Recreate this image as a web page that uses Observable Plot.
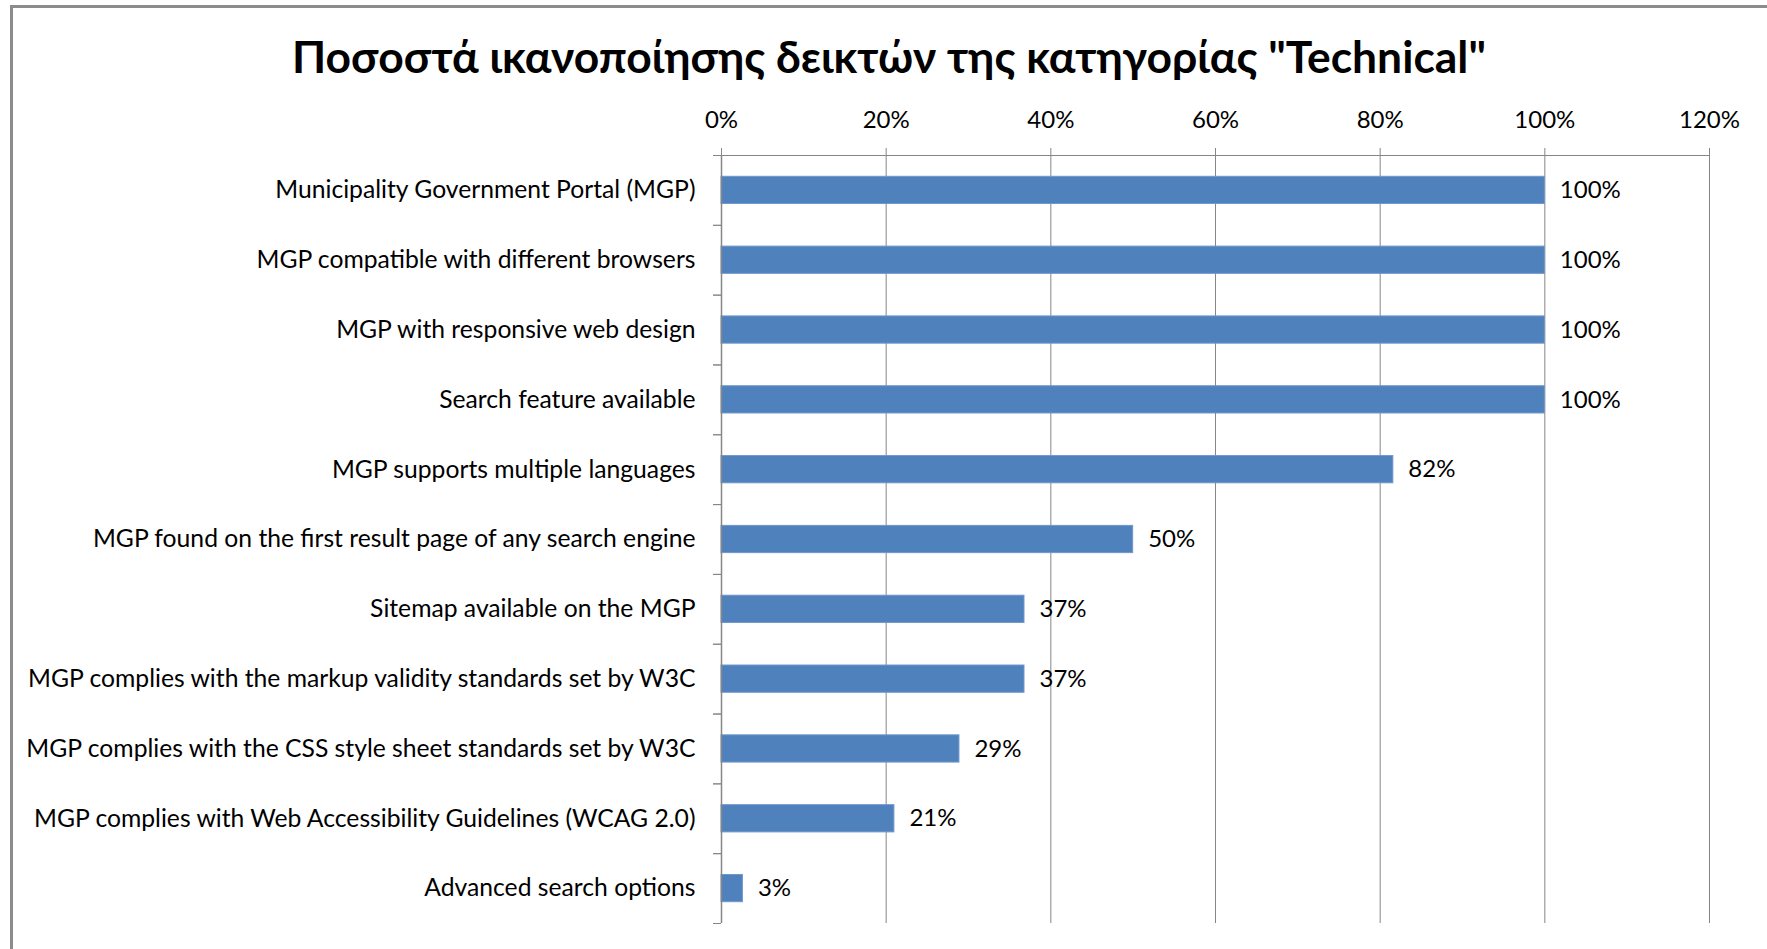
<!DOCTYPE html>
<html>
<head>
<meta charset="utf-8">
<script src="https://cdn.jsdelivr.net/npm/d3@7"></script>
<script src="https://cdn.jsdelivr.net/npm/@observablehq/plot@0.6"></script>
<style>
  html, body { margin: 0; padding: 0; background: #fff; }
  #page { position: relative; width: 1767px; height: 949px; overflow: hidden; background: #fff; }
  #frame { position: absolute; left: 10px; top: 5px; width: 1800px; height: 1000px;
           border-left: 3px solid #8c8c8c; border-top: 3px solid #8c8c8c; box-sizing: border-box; }
  #title { position: absolute; left: 0; width: 1778px; top: 29px; text-align: center;
           font-family: Lato, "Noto Sans", sans-serif; font-weight: bold; font-size: 44.4px; color: #000;
           white-space: nowrap; }
  #chart { position: absolute; left: 0; top: 0; }
</style>
</head>
<body>
<div id="page">
  <div id="frame"></div>
  <div id="chart"></div>
  <div id="title">Ποσοστά ικανοποίησης δεικτών της κατηγορίας "Technical"</div>
</div>
<script>
const categories = [
  "Municipality Government Portal (MGP)",
  "MGP compatible with different browsers",
  "MGP with responsive web design",
  "Search feature available",
  "MGP supports multiple languages",
  "MGP found on the first result page of any search engine",
  "Sitemap available on the MGP",
  "MGP complies with the markup validity standards set by W3C",
  "MGP complies with the CSS style sheet standards set by W3C",
  "MGP complies with Web Accessibility Guidelines (WCAG 2.0)",
  "Advanced search options"
];
const values = [1.00, 1.00, 1.00, 1.00, 0.816, 0.50, 0.368, 0.368, 0.289, 0.21, 0.026];
const xTicks = [0, 0.2, 0.4, 0.6, 0.8, 1.0, 1.2];

const data = categories.map((c, i) => ({label: c, value: values[i]}));

const W = 1767, H = 949;
const mTop = 155, mBottom = 26, mLeft = 721, mRight = 58;
const step = (H - mTop - mBottom) / categories.length;
const pct = d3.format(".0%");
const font = "Lato, 'Noto Sans', sans-serif";
const gridColor = "#868686";
const fs = 24;
const fsLabel = 24.7;

const chart = Plot.plot({
  width: W,
  height: H,
  marginTop: mTop,
  marginBottom: mBottom,
  marginLeft: mLeft,
  marginRight: mRight,
  style: {fontFamily: font, fontSize: fs + "px", color: "#000", background: "transparent"},
  x: {domain: [0, 1.2]},
  y: {domain: categories, paddingInner: 0.61, paddingOuter: 0.305, round: false},
  marks: [
    Plot.gridX({ticks: xTicks, stroke: gridColor, strokeOpacity: 1, strokeWidth: 1}),
    Plot.ruleY([categories[0]], {x1: 0, x2: 1.2, dy: -step / 2, stroke: gridColor, strokeWidth: 1}),
    Plot.axisX({anchor: "top", ticks: xTicks, tickFormat: pct, tickSize: 8, tickPadding: 20,
                stroke: gridColor, fontSize: fs, fill: "#000", label: null}),
    Plot.axisY({anchor: "left", tickSize: 8, text: null, dy: step / 2, stroke: gridColor, label: null}),
    Plot.axisY({anchor: "left", tickSize: 8, text: null, dy: -step / 2, stroke: gridColor, label: null}),
    Plot.axisY({anchor: "left", tickSize: 0, tickPadding: 26, fontSize: fsLabel, fill: "#000", label: null}),
    Plot.barX(data, {x: "value", y: "label", fill: "#4F81BD", stroke: "#6f97cb", strokeWidth: 1}),
    Plot.ruleX([0], {stroke: gridColor, strokeWidth: 1.5}),
    Plot.text(data, {x: "value", y: "label", text: d => pct(d.value), textAnchor: "start",
                     dx: 15, fontSize: fs, fill: "#000"})
  ]
});
document.getElementById("chart").appendChild(chart);
</script>
</body>
</html>
